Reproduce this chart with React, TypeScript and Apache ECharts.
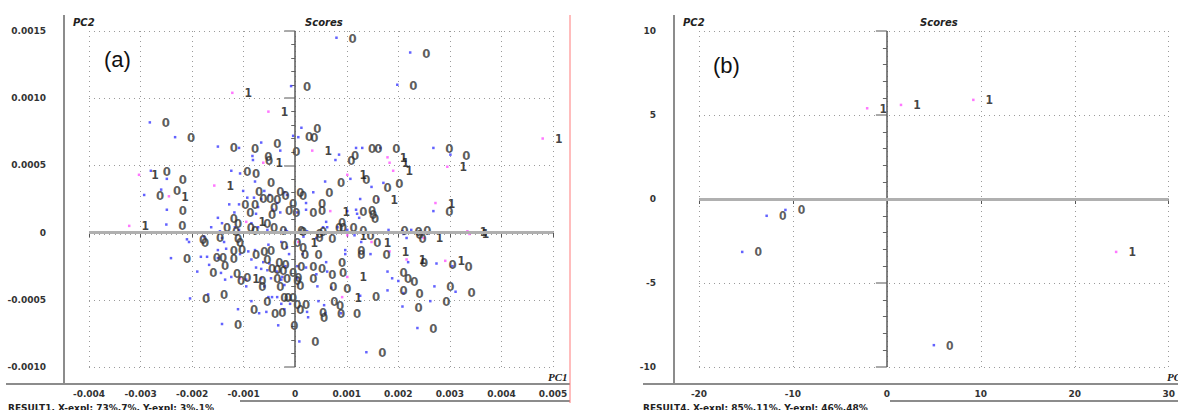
import React, { useEffect, useRef } from "react";
import * as echarts from "echarts";

// ---- Panel (a): scores, class "0" (blue) and class "1" (magenta) ----
const scoresA0: number[][] = [
  [0.0008, 0.00145], [0.00223, 0.00134], [0.00198, 0.0011], [-0.00008, 0.00109],
  [-0.00282, 0.00082], [0.00012, 0.00078], [-0.00233, 0.00071], [-0.00004, 0.00072],
  [0.00006, 0.00071], [-0.00066, 0.00067], [-0.0015, 0.00064], [-0.00109, 0.00063],
  [0.00268, 0.00063], [0.00165, 0.00063], [0.00118, 0.00063], [0.0013, 0.00063],
  [-0.00029, 0.00061], [0.00085, 0.00058], [0.00301, 0.00058], [-0.00083, 0.00057],
  [0.00078, 0.00054], [-0.00082, 0.00054], [-0.0028, 0.00046], [-0.00124, 0.00046],
  [-0.00107, 0.00044], [0.00107, 0.0004], [-0.00249, 0.0004], [-0.00078, 0.00038],
  [0.00058, 0.00038], [0.00171, 0.00037], [0.00148, 0.00034], [-0.0026, 0.00032],
  [-0.00101, 0.00031], [-0.0006, 0.00031], [-0.00021, 0.0003], [0.00035, 0.0003],
  [-0.00016, 0.00028], [-0.0005, 0.00028], [-0.00293, 0.00028], [-0.00093, 0.00026],
  [-0.0008, 0.00026], [-0.00066, 0.00025], [0.00126, 0.00025], [-0.00035, 0.00022],
  [0.00021, 0.00022], [-0.00128, 0.00021], [-0.00109, 0.00021], [-0.00072, 0.00019],
  [-0.00249, 0.00017], [-0.00043, 0.00017], [0.00021, 0.00017], [0.00101, 0.00016],
  [0.00118, 0.00017], [0.00268, 0.00016], [-0.00118, 0.00015], [-0.00029, 0.00015],
  [0.00004, 0.00015], [-0.00076, 0.00014], [0.0012, 0.00014], [-0.0015, 0.00011],
  [0.00124, 0.00011], [0.0006, 0.00008], [-0.00142, 0.00007], [-0.00085, 0.00007],
  [-0.0025, 0.00006], [0.00054, 0.00004], [-0.00163, 0.00004], [-0.00117, 0.00004],
  [-0.00072, 0.00004], [0.00082, 0.00004], [-0.00109, 0.00002], [-0.00054, 0.00002],
  [0.00101, 0.00002], [-0.00019, 0.00002], [-0.00016, 0.00001], [0.00023, 0.00001],
  [0.00016, 0], [0.00181, 0.00002], [0.00208, 0.00001], [0.00225, 0.00002],
  [-0.00146, 0.00001], [0.00016, -0.00003], [0.00041, -0.00004], [0.00062, 0.00004],
  [0.00115, -0.00002], [0.00128, -0.00007], [0.0021, -0.00001], [0.00216, -0.00004],
  [-0.00177, -0.00003], [-0.0021, -0.00005], [-0.00206, -0.00007], [-0.00142, -0.00004],
  [-0.00138, -0.00007], [-0.00052, -0.00009], [-0.0015, -0.00013], [-0.00134, -0.00012],
  [-0.00183, -0.00018], [-0.00171, -0.00018], [-0.0015, -0.00019], [-0.00167, -0.00024],
  [-0.00241, -0.00019], [-0.00107, -0.00016], [-0.00091, -0.00014], [-0.00078, -0.00013],
  [-0.00085, -0.0002], [-0.00062, -0.00022], [-0.0005, -0.00023], [-0.00076, -0.00026],
  [-0.00066, -0.00027], [-0.00054, -0.00028], [-0.00035, -0.00029], [-0.0019, -0.00029],
  [-0.00144, -0.0003], [-0.00136, -0.00035], [-0.00124, -0.00033], [-0.00095, -0.00035],
  [-0.00095, -0.0004], [-0.00066, -0.00034], [-0.0006, -0.0004], [-0.00047, -0.00034],
  [-0.00027, -0.00035], [-0.00204, -0.00049], [-0.00169, -0.00046], [-0.00085, -0.00051],
  [-0.00052, -0.00048], [-0.00045, -0.00048], [-0.00035, -0.00048], [-0.00027, -0.00053],
  [-0.00111, -0.00057], [-0.0007, -0.0006], [-0.00056, -0.00059], [-0.00142, -0.00068],
  [-0.00033, -0.00069], [-0.00027, -0.00007], [-0.00016, -0.00011], [-0.00012, -0.00016],
  [0.00014, -0.00016], [0.00097, -0.00013], [0.00097, -0.00016], [0.00146, -0.00016],
  [0.00219, -0.00022], [0.00274, -0.00023], [0.00305, -0.00025], [-0.00019, -0.00025],
  [0.00004, -0.00025], [0.00021, -0.00026], [0.00041, -0.00031], [0.0006, -0.00022],
  [0.00062, -0.00029], [-0.00025, -0.00033], [-0.00021, -0.00039], [0.00004, -0.00034],
  [0.00043, -0.0004], [0.0007, -0.00041], [0.00179, -0.00029], [0.00188, -0.00034],
  [0.002, -0.00036], [0.0027, -0.0004], [0.00311, -0.00044], [0.00179, -0.00043],
  [0.0021, -0.00045], [0.00126, -0.00047], [-0.0001, -0.00053], [-0.00021, -0.00057],
  [0.00045, -0.00051], [0.00056, -0.00054], [0.00262, -0.00051], [0.00208, -0.00055],
  [0.00023, -0.00059], [0.00025, -0.00063], [0.00058, -0.0006], [0.00089, -0.0006],
  [0.00237, -0.00071], [0.00008, -0.00081], [0.00138, -0.00089],
];

const scoresA1: number[][] = [
  [-0.00122, 0.00104], [-0.00052, 0.0009], [-0.00062, 0.00052], [-0.00303, 0.00043],
  [-0.00245, 0.00027], [-0.00322, 0.00005], [-0.00157, 0.00035], [-0.00095, 0.00008],
  [-0.00107, -0.00034], [0.00033, 0.00061], [0.00179, 0.00056], [0.00183, 0.00052],
  [0.0019, 0.00046], [0.00295, 0.00049], [0.00101, 0.00043], [0.00161, 0.00025],
  [0.00068, 0.00016], [0.00272, 0.00022], [0.0048, 0.0007], [0.00006, -0.00007],
  [0.00101, -0.00002], [0.00148, -0.00007], [0.00249, -0.00004], [0.00334, 0.00001],
  [0.00338, -0.00001], [0.00183, -0.00014], [0.00216, -0.0002], [0.00291, -0.00021],
  [0.00101, -0.00033], [0.00091, -0.00048],
];

// ---- Panel (b) ----
const scoresB0: number[][] = [[-10.8, -0.65], [-12.8, -1.0], [-15.4, -3.15], [5.0, -8.7]];
const scoresB1: number[][] = [[-2.1, 5.4], [1.5, 5.6], [9.2, 5.9], [24.4, -3.15]];

const classLabels = ["0", "1"];
const axisTitles = { x: "PC1", y: "PC2", title: "Scores" };
const panelTags = ["(a)", "(b)"];
const resultTexts = [
  "RESULT1, X-expl: 73%,7%, Y-expl: 3%,1%",
  "RESULT4, X-expl: 85%,11%, Y-expl: 46%,48%",
];

const BLUE = "#3b3bff";
const PINK = "#ff55ff";
const FRAME = "#8c8c8c";
const LBL_FONT = "'DejaVu Sans Condensed', 'Liberation Sans Narrow', Arial, sans-serif";
const TICK_FONT = "'DejaVu Sans', Verdana, sans-serif";

function fmtA_y(v: number) {
  if (Math.abs(v) < 1e-9) return "0";
  return v.toFixed(4);
}
function fmtA_x(v: number) {
  if (Math.abs(v) < 1e-9) return "0";
  return v.toFixed(3);
}
function fmtB(v: number) {
  return String(Math.round(v));
}

export default function App() {
  const ref = useRef<HTMLDivElement>(null);

  useEffect(() => {
    if (!ref.current) return;
    const chart = echarts.init(ref.current, undefined, { renderer: "svg" });

    const splitLine = { show: true, lineStyle: { color: "#9a9a9a", width: 1, type: [1, 4] as any } };
    const tickLabel = { fontFamily: TICK_FONT, fontSize: 9, fontWeight: "bold" as const, color: "#333" };

    const yAxisBase = (grid: number, min: number, max: number, interval: number, fmt: (v: number) => string) => ({
      type: "value" as const,
      gridIndex: grid,
      min,
      max,
      interval,
      position: "left" as const,
      offset: 25,
      axisLine: { show: false },
      axisTick: { show: true, length: 11, lineStyle: { color: "#aaaaaa", width: 2 } },
      minorTick: { show: true, splitNumber: 5, length: 4, lineStyle: { color: "#666", width: 1 } },
      minorSplitLine: { show: false },
      axisLabel: { ...tickLabel, margin: 18, formatter: fmt },
      splitLine,
    });
    const xAxisBase = (grid: number, min: number, max: number, interval: number, fmt: (v: number) => string) => ({
      type: "value" as const,
      gridIndex: grid,
      min,
      max,
      interval,
      position: "bottom" as const,
      offset: 17,
      axisLine: { show: false },
      axisTick: { show: true, length: 5, lineStyle: { color: "#555", width: 1 } },
      minorTick: { show: true, splitNumber: 10, length: 2, lineStyle: { color: "#555", width: 1 } },
      axisLabel: { ...tickLabel, margin: 5, formatter: fmt },
      splitLine,
    });

    const zeroLines = {
      silent: true,
      symbol: "none",
      label: { show: false },
      animation: false,
      data: [
        { xAxis: 0, lineStyle: { color: "#5a5a5a", width: 1.5, type: "solid" } },
        { yAxis: 0, lineStyle: { color: "#b0b0b0", width: 3, type: "solid" } },
      ],
    };

    const SYM = 2.5;
    const scatter = (
      data: number[][],
      axis: number,
      color: string,
      text: string,
      labelColor: string,
      fontSize: number,
      withZero: boolean
    ) => ({
      type: "scatter" as const,
      xAxisIndex: axis,
      yAxisIndex: axis,
      data,
      symbol: "rect",
      symbolSize: SYM,
      clip: false,
      silent: true,
      itemStyle: { color },
      label: {
        show: true,
        position: [SYM / 2 + 16, SYM / 2 + 0.5],
        align: "center",
        verticalAlign: "middle",
        formatter: text,
        color: labelColor,
        fontSize,
        fontWeight: "bold",
        fontFamily: LBL_FONT,
      },
      labelLayout: { hideOverlap: false },
      markLine: withZero ? zeroLines : undefined,
      z: 3,
    });

    const line = (x1: number, y1: number, x2: number, y2: number, stroke: string, w: number) => ({
      type: "line",
      silent: true,
      shape: { x1, y1, x2, y2 },
      style: { stroke, lineWidth: w },
      z: 1,
    });
    const text = (x: number, y: number, t: string, font: string, fill = "#222", align = "left") => ({
      type: "text",
      silent: true,
      x,
      y,
      style: { text: t, font, fill, textAlign: align, textVerticalAlign: "middle" },
      z: 5,
    });

    const italicFont = "italic bold 10px 'DejaVu Sans', Arial, sans-serif";

    chart.setOption({
      animation: false,
      backgroundColor: "#ffffff",
      grid: [
        { left: 89, top: 31, width: 464, height: 336 },
        { left: 699, top: 31, width: 472, height: 336 },
      ],
      xAxis: [
        xAxisBase(0, -0.004, 0.005, 0.001, fmtA_x),
        xAxisBase(1, -20, 30, 10, fmtB),
      ],
      yAxis: [
        yAxisBase(0, -0.001, 0.0015, 0.0005, fmtA_y),
        yAxisBase(1, -10, 10, 5, fmtB),
      ],
      series: [
        scatter(scoresA0, 0, BLUE, classLabels[0], "#333", 13, true),
        scatter(scoresA1, 0, PINK, classLabels[1], "#111", 12, false),
        scatter(scoresB0, 1, BLUE, classLabels[0], "#333", 12, true),
        scatter(scoresB1, 1, PINK, classLabels[1], "#111", 12, false),
      ],
      graphic: [
        // panel (a) frame
        line(64, 15, 64, 384, FRAME, 2),
        line(6, 384, 570, 384, FRAME, 2),
        line(240, 401, 570, 401, FRAME, 2),
        line(570, 15, 570, 403, "#ff7a7a", 1),
        // panel (b) frame
        line(674, 15, 674, 384, FRAME, 2),
        line(643, 384, 1178, 384, FRAME, 2),
        line(890, 401, 1178, 401, FRAME, 2),
        // texts panel (a)
        text(73, 22, axisTitles.y, italicFont),
        text(305, 22, axisTitles.title, italicFont),
        text(104, 59, panelTags[0], "22px 'Liberation Sans', Arial, sans-serif", "#111"),
        text(548, 377, axisTitles.x, "italic bold 11px 'Liberation Serif', 'Times New Roman', serif"),
        text(8, 408, resultTexts[0], "bold 9px 'DejaVu Sans', Verdana, sans-serif", "#222"),
        // texts panel (b)
        text(683, 22, axisTitles.y, italicFont),
        text(920, 22, axisTitles.title, italicFont),
        text(713, 65, panelTags[1], "22px 'Liberation Sans', Arial, sans-serif", "#111"),
        text(1167, 377, axisTitles.x, "italic bold 11px 'Liberation Serif', 'Times New Roman', serif"),
        text(643, 408, resultTexts[1], "bold 9px 'DejaVu Sans', Verdana, sans-serif", "#222"),
      ],
    });

    return () => chart.dispose();
  }, []);

  return (
    <div
      ref={ref}
      style={{ position: "fixed", left: 0, top: 0, width: 1178, height: 410, background: "#fff" }}
    />
  );
}
